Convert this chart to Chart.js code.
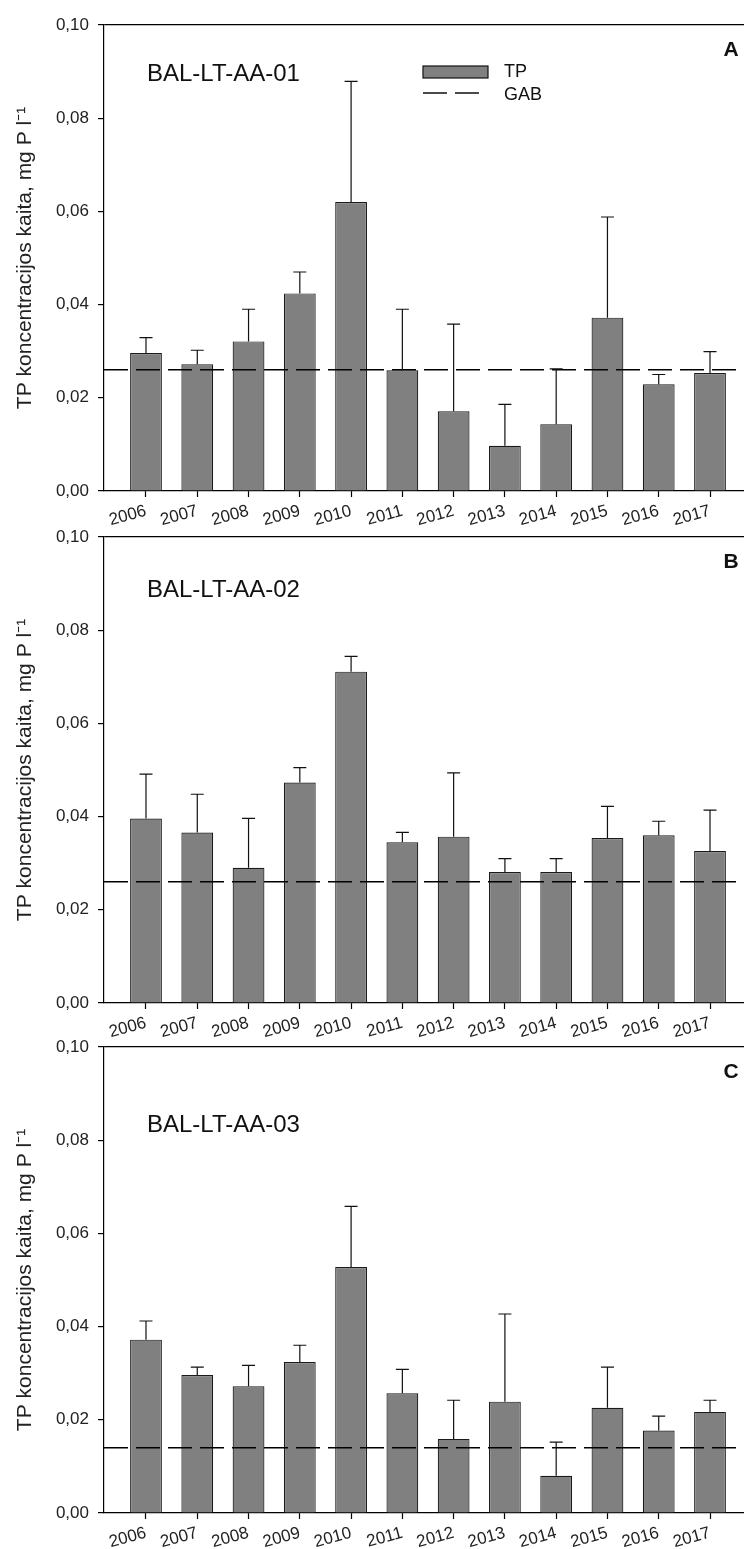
<!DOCTYPE html>
<html>
<head>
<meta charset="utf-8">
<script src="https://cdn.jsdelivr.net/npm/chart.js@4"></script>
<style>
  html, body { margin: 0; padding: 0; background: #fff; overflow: hidden; }
  body { width: 744px; height: 1549px; position: relative; }
  canvas { position: absolute; left: 0; }
</style>
</head>
<body>
<canvas id="chartA" width="752" height="531" style="top:0px"></canvas>
<canvas id="chartB" width="752" height="531" style="top:512px"></canvas>
<canvas id="chartC" width="752" height="527" style="top:1022px"></canvas>
<script>
// years on x axis
const years = ['2006', '2007', '2008', '2009', '2010', '2011', '2012', '2013', '2014', '2015', '2016', '2017'];

// BAL-LT-AA-01
const tpA = [0.0296, 0.0272, 0.0321, 0.0424, 0.0620, 0.0259, 0.0171, 0.0097, 0.0143, 0.0372, 0.0229, 0.0253];
const sdA = [0.0033, 0.0030, 0.0069, 0.0046, 0.0259, 0.0131, 0.0187, 0.0089, 0.0119, 0.0216, 0.0021, 0.0046];
const gabA = 0.026;

// BAL-LT-AA-02
const tpB = [0.0396, 0.0366, 0.0290, 0.0473, 0.0711, 0.0345, 0.0357, 0.0281, 0.0281, 0.0354, 0.0360, 0.0326];
const sdB = [0.0095, 0.0082, 0.0106, 0.0032, 0.0033, 0.0021, 0.0137, 0.0029, 0.0029, 0.0068, 0.0030, 0.0088];
const gabB = 0.026;

// BAL-LT-AA-03
const tpC = [0.0372, 0.0296, 0.0272, 0.0324, 0.0528, 0.0257, 0.0159, 0.0239, 0.0080, 0.0226, 0.0177, 0.0217];
const sdC = [0.0040, 0.0017, 0.0045, 0.0036, 0.0130, 0.0051, 0.0083, 0.0188, 0.0072, 0.0087, 0.0031, 0.0025];
const gabC = 0.014;

const yTicks = [0, 0.02, 0.04, 0.06, 0.08, 0.10];
const yTitle = 'TP koncentracijos kaita, mg P l\u207B\u00B9';

const xMin = -0.819, xMax = 11.819;

Chart.defaults.font.family = '"Liberation Sans", Arial, sans-serif';
Chart.defaults.color = '#222';

// upper error bars (mean + SD)
const errBars = {
  id: 'errbars',
  afterDatasetsDraw(chart, args, opts) {
    const ctx = chart.ctx;
    const meta = chart.getDatasetMeta(0);
    const ys = chart.scales.y;
    const vals = chart.data.datasets[0].data;
    ctx.save();
    ctx.strokeStyle = '#111';
    ctx.lineWidth = 1.2;
    meta.data.forEach((bar, i) => {
      const yTop = ys.getPixelForValue(vals[i].y + opts.sd[i]);
      ctx.beginPath();
      ctx.moveTo(bar.x, bar.y);
      ctx.lineTo(bar.x, yTop);
      ctx.moveTo(bar.x - 6.5, yTop);
      ctx.lineTo(bar.x + 6.5, yTop);
      ctx.stroke();
    });
    ctx.restore();
  }
};

// station name, panel letter, legend
const labels = {
  id: 'labels',
  afterDraw(chart, args, opts) {
    const ctx = chart.ctx;
    const a = chart.chartArea;
    ctx.save();
    ctx.fillStyle = '#111';
    ctx.textBaseline = 'middle';
    ctx.font = '24px "Liberation Sans", Arial, sans-serif';
    ctx.textAlign = 'left';
    ctx.fillText(opts.station, a.left + 43, a.top + opts.stationY);
    ctx.font = 'bold 21px "Liberation Sans", Arial, sans-serif';
    ctx.textAlign = 'center';
    ctx.fillText(opts.letter, 731, a.top + 25);
    if (opts.legend) {
      ctx.fillStyle = '#808080';
      ctx.strokeStyle = '#111';
      ctx.lineWidth = 1.2;
      ctx.fillRect(a.left + 319, a.top + 41, 65, 12);
      ctx.strokeRect(a.left + 319, a.top + 41, 65, 12);
      ctx.beginPath();
      ctx.setLineDash([24, 8]);
      ctx.lineWidth = 1.5;
      ctx.moveTo(a.left + 319, a.top + 68);
      ctx.lineTo(a.left + 378, a.top + 68);
      ctx.stroke();
      ctx.setLineDash([]);
      ctx.fillStyle = '#111';
      ctx.font = '18px "Liberation Sans", Arial, sans-serif';
      ctx.textAlign = 'left';
      ctx.fillText('TP', a.left + 400, a.top + 47);
      ctx.fillText('GAB', a.left + 400, a.top + 70);
    }
    ctx.restore();
  }
};

function makeChart(id, tp, sd, gab, station, letter, stationY, legend, xHeight) {
  return new Chart(document.getElementById(id), {
    type: 'bar',
    data: {
      datasets: [{
        type: 'bar',
        label: 'TP',
        data: tp.map((v, i) => ({ x: i, y: v })),
        backgroundColor: '#808080',
        borderColor: '#1a1a1a',
        borderWidth: 1.2,
        categoryPercentage: 1,
        barPercentage: 0.62,
        order: 2
      }, {
        type: 'line',
        label: 'GAB',
        data: [{ x: xMin, y: gab }, { x: xMax, y: gab }],
        borderColor: '#000',
        borderWidth: 1.5,
        borderDash: [24, 8],
        pointRadius: 0,
        fill: false,
        order: 1
      }]
    },
    options: {
      responsive: false,
      animation: false,
      devicePixelRatio: 1,
      layout: { padding: { top: 25, left: 0, right: 0, bottom: 0 } },
      scales: {
        x: {
          type: 'linear',
          offset: false,
          min: xMin,
          max: xMax,
          afterBuildTicks: (s) => { s.ticks = years.map((_, i) => ({ value: i })); },
          afterFit: (s) => { s.height = xHeight; },
          ticks: {
            callback: (v) => years[v],
            autoSkip: false,
            minRotation: 15,
            maxRotation: 15,
            padding: 4,
            font: { size: 17 },
            color: '#222'
          },
          grid: { offset: false, drawOnChartArea: false, tickLength: 6, tickColor: '#000', tickWidth: 1.2 },
          border: { color: '#000', width: 1.2 }
        },
        y: {
          min: 0,
          max: 0.10,
          afterBuildTicks: (s) => { s.ticks = yTicks.map(v => ({ value: v })); },
          afterFit: (s) => { s.width = 104; },
          ticks: {
            callback: (v) => v.toFixed(2).replace('.', ','),
            padding: 9,
            font: { size: 17 },
            color: '#222'
          },
          grid: {
            color: (c) => (c.tick && c.tick.value > 0.099) ? '#000' : 'rgba(0,0,0,0)',
            lineWidth: 1.2,
            tickLength: 6,
            tickColor: '#000',
            tickWidth: 1.2
          },
          border: { color: '#000', width: 1.2 },
          title: {
            display: true,
            text: yTitle,
            font: { size: 21 },
            color: '#222',
            padding: { top: 13, bottom: 0 }
          }
        }
      },
      plugins: {
        legend: { display: false },
        tooltip: { enabled: false },
        errbars: { sd: sd },
        labels: { station: station, letter: letter, stationY: stationY, legend: legend }
      }
    },
    plugins: [errBars, labels]
  });
}

makeChart('chartA', tpA, sdA, gabA, 'BAL-LT-AA-01', 'A', 49, true, 40);
makeChart('chartB', tpB, sdB, gabB, 'BAL-LT-AA-02', 'B', 53, false, 40);
makeChart('chartC', tpC, sdC, gabC, 'BAL-LT-AA-03', 'C', 78, false, 36);
</script>
</body>
</html>
